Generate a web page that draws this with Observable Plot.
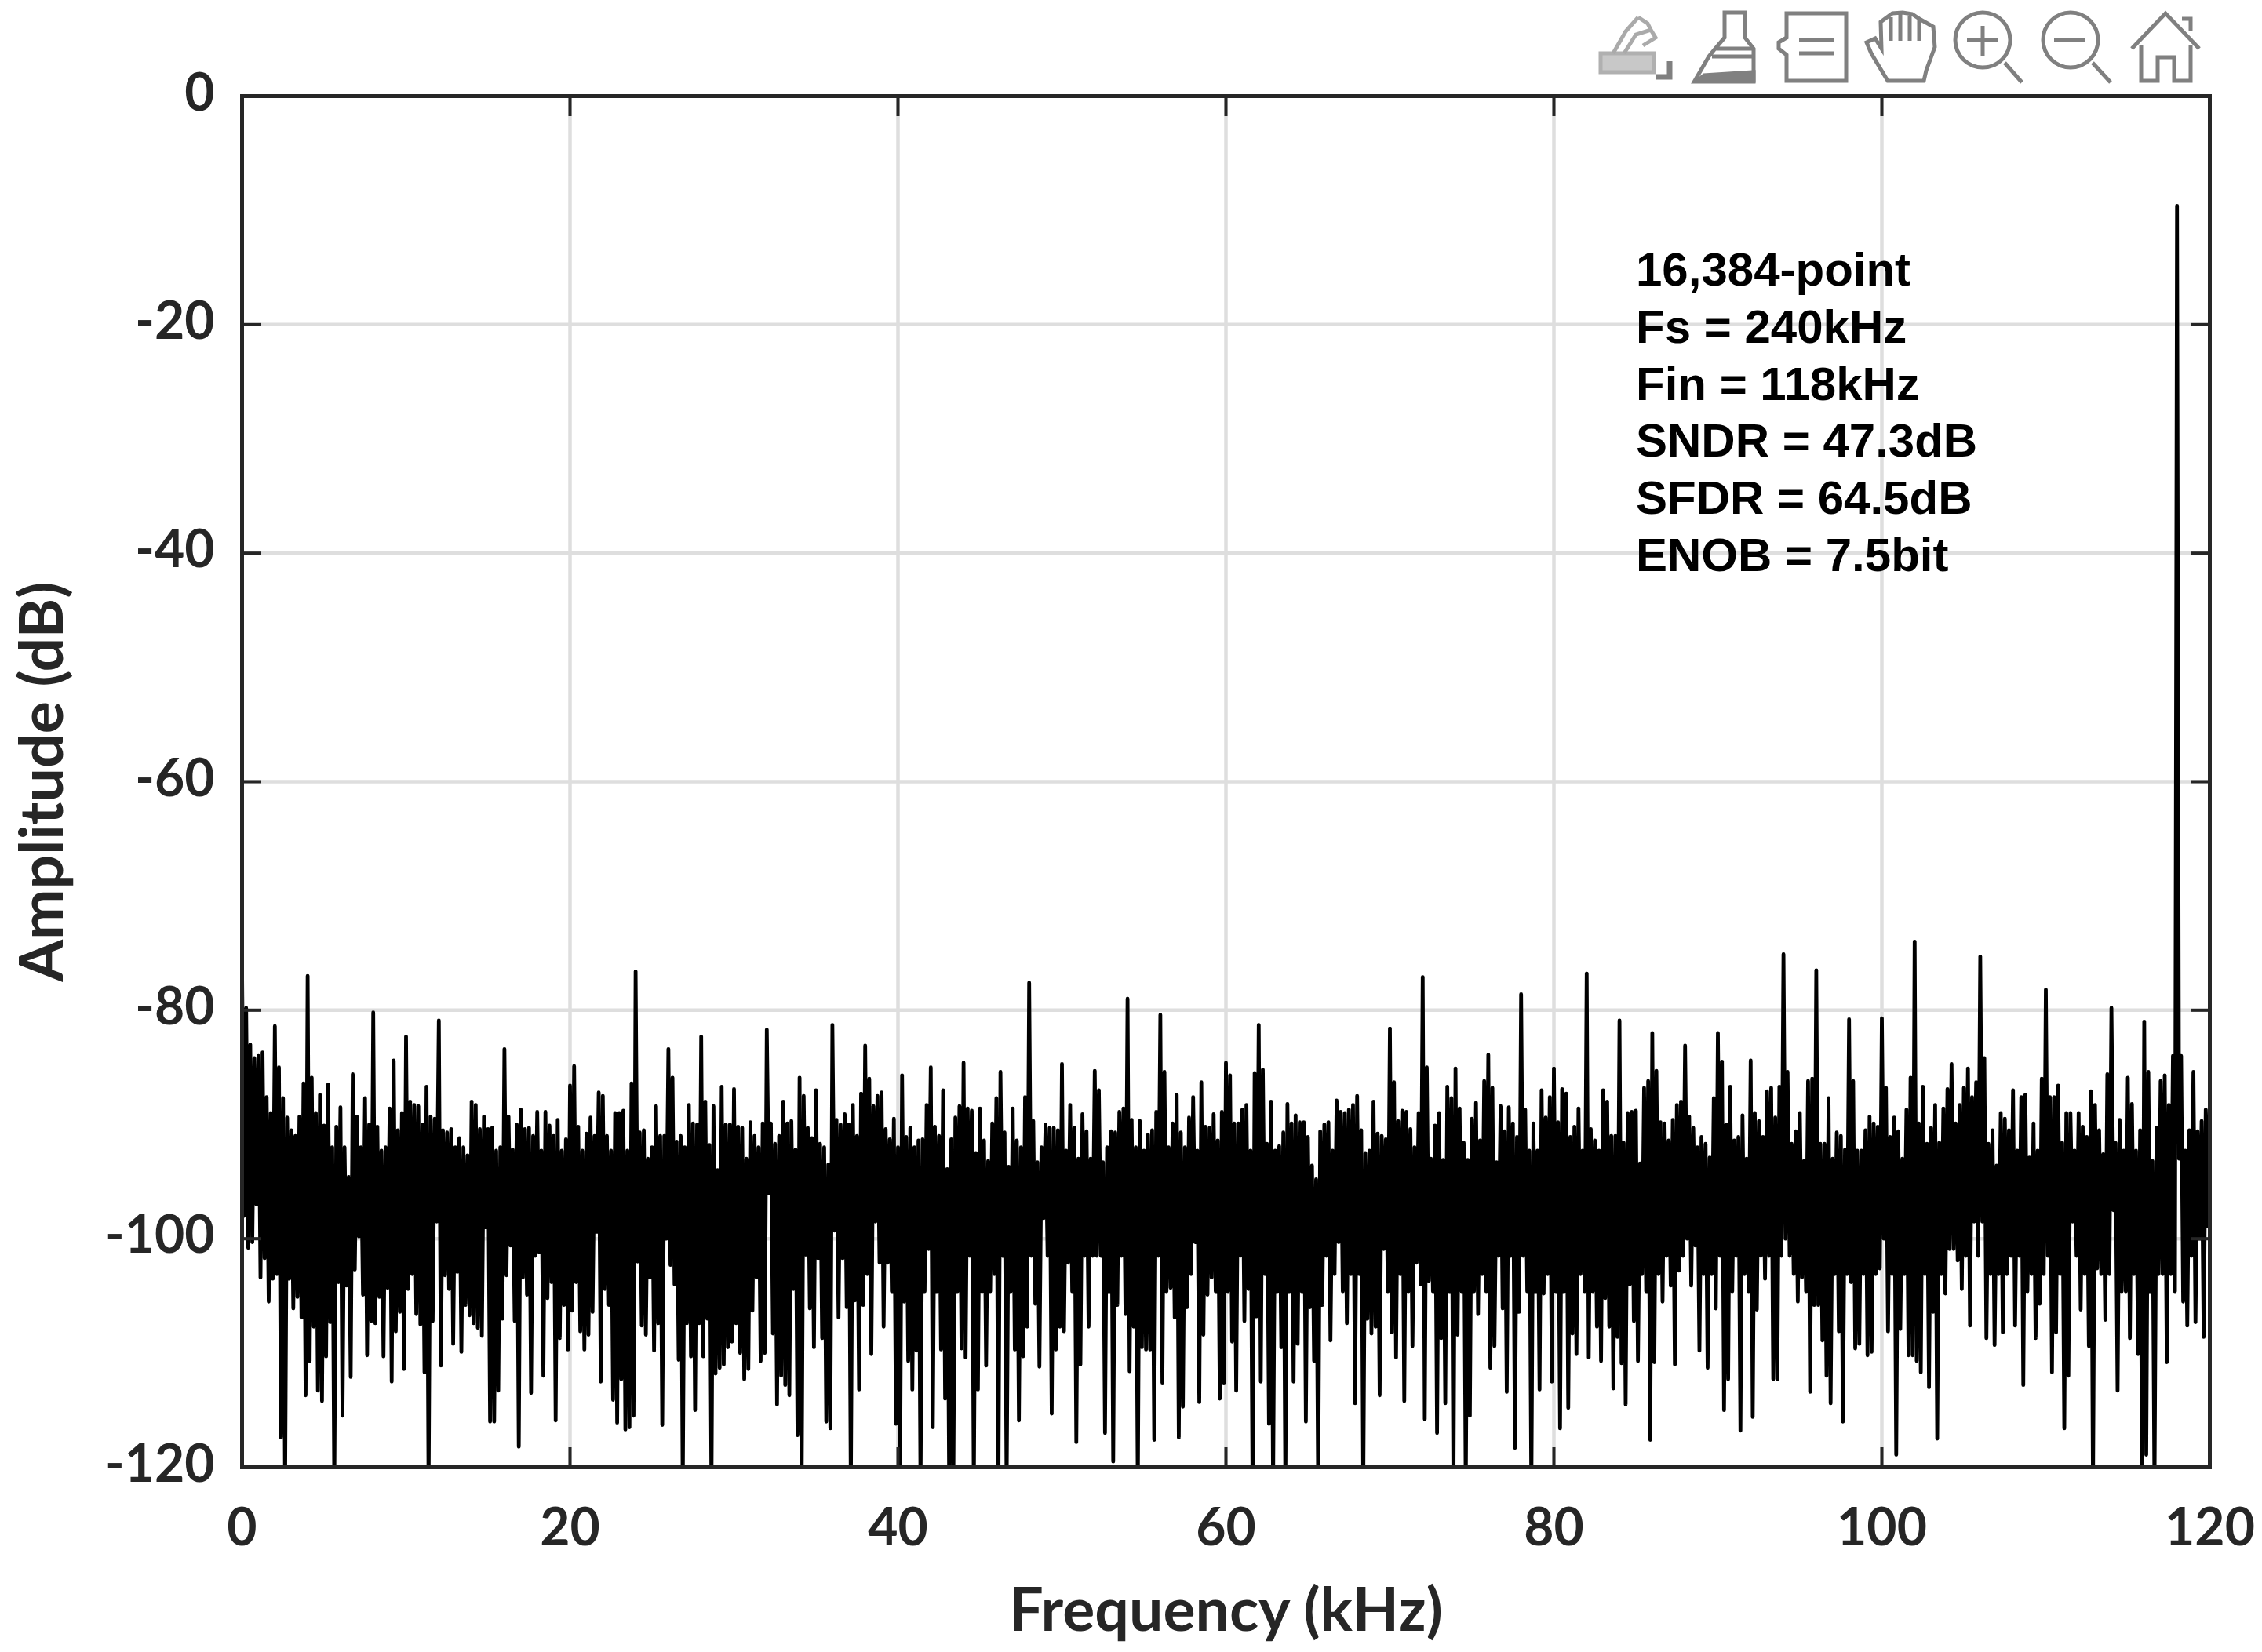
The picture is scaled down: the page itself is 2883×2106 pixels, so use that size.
<!DOCTYPE html>
<html>
<head>
<meta charset="utf-8">
<script src="https://cdn.jsdelivr.net/npm/d3@7"></script>
<script src="https://cdn.jsdelivr.net/npm/@observablehq/plot@0.6"></script>
<style>
html,body{margin:0;padding:0;background:#fff;}
#wrap{position:relative;width:2883px;height:2106px;overflow:hidden;}
#tools{position:absolute;left:0;top:0;}
</style>
</head>
<body>
<div id="wrap">
<div id="chart"></div>
<svg id="tools" width="2883" height="120" fill="none" stroke="#808080" stroke-width="5">
  <g stroke="#aaa" stroke-width="5">
    <rect x="2040" y="68" width="68" height="24" fill="#c8c8c8" stroke="#b0b0b0"/>
    <path d="M2056 68 L2072 40 L2088 22 M2070 68 L2085 44 L2104 38 L2110 48 L2094 58 M2088 22 L2100 30 L2104 38"/>
  </g>
  <path d="M2110 98 H2128 V78" stroke="#808080" stroke-width="7"/>
  <path d="M2198 16 H2224 V48 L2235 62 V103 H2160 L2178 72 L2186 62 L2198 48 Z M2186 62 H2235 M2182 72 H2235"/>
  <path d="M2162 104 L2172 96 L2235 92 V104 Z" fill="#808080"/>
  <path d="M2277 17 H2353 V103 H2277 V70 L2267 62 V54 L2277 48 Z M2293 51 H2338 M2293 68 H2338"/>
  <path d="M2406 103 L2385 68 L2379 54 L2390 49 L2398 62 L2397 28 L2405 22 L2412 17 L2425 16 L2437 18 L2448 25 L2464 34 L2466 60 L2455 90 L2452 103 Z M2410 22 V52 M2422 18 V52 M2434 20 V52 M2446 26 V52"/>
  <circle cx="2527" cy="51" r="35"/>
  <path d="M2555 80 L2577 105 M2527 33 V71 M2507 51 H2547"/>
  <circle cx="2639" cy="51" r="35"/>
  <path d="M2667 80 L2690 105 M2618 51 H2658"/>
  <path d="M2717 62 L2760 17 L2803 62 M2729 58 V103 H2750 V73 H2771 V103 H2792 V58 M2781 24 H2792 V40"/>
</svg>
</div>
<script>
const binStep = 0.25;
const toneFreq = 118;

// Upper ends of the trace, one value per bin, 20 bins (5 kHz) on each row
const tops = [
-76.5,-79.8,-83,-84.2,-84,-83.7,-87.6,-89,-81.4,-85,-87.7,-89.4,-90.5,-91,-89.3,-86.4,-77,-85.9,-89,-87.4,
-90.1,-86.5,-92,-90.2,-88.5,-92,-94.6,-85.6,-89.3,-92,-87.7,-90,-80.2,-90.2,-92.3,-92,-88.6,-84.4,-90.5,-89,
-82.3,-88,-88.3,-88.4,-90,-86.7,-89.3,-89.5,-80.9,-90.5,-90.7,-90.4,-92,-91.2,-92,-92.7,-88,-88.3,-90.4,-89.3,
-90.4,-90.3,-92.3,-92,-83.4,-89.3,-92.2,-90,-88.7,-90.4,-90.3,-91,-88.9,-92.3,-88.9,-90.1,-91,-89.6,-92.3,-91.3,
-86.6,-84.9,-90.2,-92.3,-90.8,-89.4,-91,-87.2,-87.5,-91,-92.3,-89,-89,-88.8,-92.3,-86.4,-76.6,-90.7,-90.5,-93,
-92,-88.4,-91,-91,-83.4,-85.9,-91.5,-91,-92,-88.3,-89.9,-90,-82.3,-88,-91.8,-88.4,-94,-86.7,-90,-90,
-86.9,-90.2,-90.3,-93,-89.8,-91,-92,-89.9,-81.7,-89.9,-91.7,-91,-88,-89.9,-89.7,-92.2,-85.9,-87.5,-90.3,-91.2,
-87,-91.7,-92,-93.5,-81.3,-89.6,-90,-89.1,-90,-88.3,-91,-87.3,-83.1,-86,-88.4,-87.5,-87.2,-90.4,-91.3,-89.5,
-92,-85.7,-91.1,-90.3,-92,-91.4,-91.3,-88.3,-85,-90.2,-91,-87,-93.9,-91.3,-89.4,-88.4,-84.6,-88.6,-88.8,-92.5,
-88.6,-91.4,-93.2,-89.9,-87.7,-85.4,-90.7,-93.7,-88.6,-91.4,-92,-87.6,-77.6,-89.7,-93.3,-92,-90,-90.3,-90.3,-90.5,
-84.7,-92.3,-88.3,-90.3,-93,-89.1,-90.6,-93,-85.3,-87,-93.3,-92,-90.6,-90.7,-88.9,-88.6,-79,-89.6,-92,-89.7,
-92.3,-90.9,-90.5,-88.9,-80.4,-85.4,-92,-89.9,-87.4,-90.7,-92,-89.4,-87.6,-92.3,-86.3,-90.2,-90.3,-89.1,-91.4,-88.9,
-84.6,-85.7,-89.9,-89.9,-88.7,-88.3,-92.3,-85.5,-81.3,-85.2,-91.7,-88,-92.3,-91.9,-90.7,-88.2,-89.9,-89.2,-89.8,-89.8,
-91.1,-93.6,-94.8,-90.6,-90,-89.8,-92.3,-87.9,-88.9,-89,-88.7,-88.3,-87.5,-90.5,-92.5,-92.3,-88,-90.8,-91,-91.3,
-81.6,-86.3,-89.7,-88.8,-88.9,-90.4,-92,-89,-77.1,-85,-93,-90.1,-89,-93.1,-86.7,-87.7,-85.1,-88.6,-91.6,-93.1,
-89.5,-88.1,-91.4,-86.2,-83.9,-86.8,-93.3,-88.4,-90.6,-88.5,-89.9,-91.1,-78.6,-88.7,-92.3,-89.9,-92.3,-87,-89.4,-87.6,
-85.1,-89.8,-86.9,-87.3,-91.1,-90.2,-88.6,-92.3,-76.8,-90.4,-91.4,-92.3,-87,-88,-91,-91,-80.9,-91.6,-89,-88.9,
-88.8,-93.4,-86.8,-86.2,-82,-85.3,-89.8,-89.9,-91.4,-89.6,-88.3,-88,-83.1,-89.3,-90.3,-92,-91.1,-91.7,-92.9,-87.7,
-82,-84.5,-90,-86.7,-91.4,-91.1,-89.2,-93,-84.4,-89,-89.7,-91.1,-87.1,-86.8,-89.4,-86.7,-75.1,-85.4,-91.7,-90.6,
-89,-93.2,-86.2,-86,-76.5,-91.7,-91.7,-87.7,-93,-90.7,-91,-92.2,-80.8,-86.2,-92.3,-92.3,-90.5,-89.3,-89.9,-90.2,
-80.7,-86.8,-91.1,-89.4,-90.6,-93,-88.7,-85.9,-74,-89.9,-86.7,-91.7,-90.3,-88.3,-91.6,-88.6,-86.9,-84.7,-89.9,-88.3,
-86.8,-85.1,-87.6,-86.3,-75.3,-84.2,-91.7,-90.5,-93.6,-89,-89.5,-90.5,-87,-92.3,-87.6,-87.4,-92.9,-89.9,-92.3,-86,
-78.2,-87.6,-87.6,-86.6,-91.6,-89,-89,-92.3,-89,-90.2,-91.1,-87.1,-88.3,-90.5,-92.6,-85.6,-79.8,-91.6,-89.6,-92.3,
-85.9,-88.2,-92.3,-90.5,-81,-85.4,-93.2,-90.3,-86.2,-85.7,-88.3,-84,-9.6,-84,-92.3,-90.5,-85.4,-90.6,-89.7,-88.7
];

// Lower ends of the trace, half a bin later; values under the axis floor are clipped by it
const bottoms = [
-98,-100.8,-100.3,-97,-103.4,-101.7,-105.5,-103.5,-103.1,-117.4,-122,-103.5,-106.1,-105.1,-106.9,-113.7,-110.7,-107.7,-113.3,-114.2,
-110.3,-107.3,-122,-103.8,-115.5,-104.1,-112.1,-102.7,-99.8,-104.9,-110.2,-107.2,-107.4,-105.1,-110.3,-104.3,-112.5,-108.1,-106.4,-111.4,
-104.4,-103.1,-106.6,-107.5,-111.7,-122,-107.2,-98.5,-111.1,-103.2,-104.4,-109.2,-102.9,-109.9,-105.8,-106.7,-107.4,-107.8,-108.5,-99,
-116,-116,-113.3,-107,-103.2,-100.6,-107.2,-118.2,-103.4,-104.9,-113.5,-101.5,-101.2,-112,-105.2,-103.8,-115.9,-108.7,-105.8,-109.7,
-106.3,-103.8,-108.1,-109.7,-108.4,-106.4,-99.4,-112.5,-104.4,-105.8,-114.1,-116.1,-112.3,-116.7,-116.5,-115.5,-102,-107.6,-108.4,-103.4,
-109.8,-107.4,-116.3,-100,-102.3,-104,-110.6,-122,-107.4,-110.3,-115,-107.4,-110.3,-107,-122,-111.8,-111.3,-111,-109.5,-109,
-107.4,-110,-112.3,-111.4,-106.3,-103.4,-110.7,-110,-96,-108.3,-114.5,-112,-112.8,-113.7,-104.4,-117.2,-122,-101.4,-106.1,-109.5,
-101.7,-108.7,-116,-116.6,-99.3,-106.9,-101.7,-106,-122,-105.4,-113.2,-105.8,-103.1,-110.1,-98.5,-102.1,-107.7,-102.1,-104.6,-116.2,
-122,-105.5,-110.7,-113.2,-109.8,-122,-104.6,-100.9,-116.5,-104.6,-109.7,-114,-122,-122,-104.6,-109.6,-110.4,-101.5,-122,-113.2,
-104.6,-111.1,-104.6,-103.1,-122,-101.5,-122,-104.6,-109.7,-115.9,-110.3,-107.7,-101.5,-105.7,-111.2,-98.2,-101.5,-115.3,-109.7,-107.7,
-108.1,-102.1,-104.6,-117.8,-111,-101.5,-107.7,-101.5,-101.5,-101.5,-117,-104.6,-119.5,-105.8,-101.5,-106.6,-111.6,-107.7,-122,-109.5,
-109.7,-109.7,-117.6,-101.5,-112.6,-104.6,-104.3,-106.9,-117.4,-114.7,-106,-103.1,-100.3,-114.3,-108.4,-104.9,-103.4,-104.6,-114,-112.6,
-104.6,-109,-113.3,-101.5,-107.2,-104.4,-122,-106.8,-112.5,-103.1,-116.2,-122,-104.6,-109.5,-122,-104.6,-112.5,-109.2,-104.6,-116,
-106,-110.7,-122,-105.8,-101.5,-108.9,-103.1,-100.3,-104.6,-107.4,-103.1,-114.4,-103.1,-122,-107,-108.3,-107.7,-113.7,-100.9,-104.6,
-108.2,-110.4,-103.1,-114.2,-104.6,-109.4,-102.1,-104,-115.8,-103.7,-104.6,-117,-108.7,-114.4,-104.6,-122,-108.4,-104.6,-122,-115.5,
-104.6,-106.6,-103.1,-104.6,-111.3,-109.4,-101.5,-106.1,-113.4,-101.5,-118.3,-106.4,-101.5,-104.6,-122,-104.6,-113.2,-104.8,-103.1,-112.5,
-104.6,-116.6,-104.6,-114.8,-108.3,-110.1,-103.1,-104.6,-110.4,-104.6,-107.7,-110.7,-105.2,-107.7,-113.1,-108.6,-110.9,-114.5,-104,-107.2,
-110.7,-103.1,-104.6,-117.6,-110.8,-103.1,-105.5,-101.5,-104.1,-111,-102.8,-101.5,-100,-104.1,-100.6,-109.8,-103.1,-111.3,-103.1,-106.1,
-101.5,-115,-112.3,-104.6,-101.5,-116.8,-103.1,-104.6,-115.6,-106.2,-101.5,-103.5,-101.5,-112.3,-112.3,-101.5,-100,-101.5,-103.1,-105.5,
-103.4,-104.6,-113.4,-105.8,-105.8,-108.9,-112,-114.4,-103.1,-108.1,-116,-103.1,-103.8,-109.6,-109.2,-103.1,-110.2,-109.9,-103.1,-102.6,
-100,-108.1,-103.1,-118.9,-107.9,-103.1,-110.2,-110.2,-110.7,-111.7,-103.1,-113,-106.4,-117.5,-103.1,-104.8,-100.9,-100.9,-101.9,-104.4,
-101.5,-107.6,-98.5,-101.5,-98.5,-108.7,-103.1,-109.3,-103.1,-108.2,-103.1,-101.5,-107.6,-101.5,-112.8,-104.6,-103.1,-108.7,-105.7,-103.1,
-101.5,-111.7,-108.2,-103.1,-116.6,-112,-98.5,-101.5,-106.2,-103.1,-109.4,-122,-102.6,-103.1,-107.1,-103.1,-97.5,-113.3,-104.6,-104.6,
-108.7,-103.1,-110.1,-122,-118.9,-104.6,-122,-103.1,-103.1,-110.8,-103.1,-104.6,-93,-105.5,-107.6,-101.5,-107.3,-100,-108.6,-98.9
];

const xTicks = [0,20,40,60,80,100,120];
const yTicks = [0,-20,-40,-60,-80,-100,-120];
const xGrid = [20,40,60,80,100];
const yGrid = [-20,-40,-60,-80,-100];
const noteLines = ["16,384-point","Fs = 240kHz","Fin = 118kHz","SNDR = 47.3dB","SFDR = 64.5dB","ENOB = 7.5bit"];
const noteLevels = [-15.25,-20.25,-25.25,-30.25,-35.25,-40.25];
const noteFreq = 85;
const xTitle = "Frequency (kHz)";
const yTitle = "Amplitude (dB)";

const inkColor = "#262626";
const gridColor = "#dedede";
const labelFont = "Lato, Carlito, sans-serif";

const spectrum = [];
tops.forEach((t, i) => {
  spectrum.push({f: i * binStep, a: t});
  spectrum.push({f: i * binStep + binStep / 2, a: bottoms[i]});
});
spectrum.push({f: 120, a: -88});

const chart = Plot.plot({
  width: 2883,
  height: 2106,
  marginLeft: 308,
  marginRight: 67,
  marginTop: 122,
  marginBottom: 236,
  style: {background: "#fff", fontFamily: labelFont},
  x: {domain: [0, 120], axis: null},
  y: {domain: [-120, 0], axis: null},
  marks: [
    Plot.ruleX(xGrid, {stroke: gridColor, strokeWidth: 4.5}),
    Plot.ruleY(yGrid, {stroke: gridColor, strokeWidth: 4.5}),
    Plot.text(noteLines, {
      x: noteFreq, y: (d, i) => noteLevels[i], text: d => d,
      textAnchor: "start", fontFamily: "Liberation Sans", fontWeight: "bold", fontSize: 60, fill: "#000"
    }),
    Plot.line(spectrum, {
      x: "f", y: "a", stroke: "#000", strokeWidth: 4.8, clip: true,
      strokeLinejoin: "round", strokeLinecap: "round"
    }),
    Plot.axisX({anchor: "bottom", label: null, ticks: xTicks, tickSize: -25, tickFormat: () => "", stroke: inkColor, strokeWidth: 4}),
    Plot.axisX({anchor: "top", label: null, ticks: xTicks, tickSize: -25, tickFormat: () => "", stroke: inkColor, strokeWidth: 4}),
    Plot.axisY({anchor: "left", label: null, ticks: yTicks, tickSize: -25, tickFormat: () => "", stroke: inkColor, strokeWidth: 4}),
    Plot.axisY({anchor: "right", label: null, ticks: yTicks, tickSize: -25, tickFormat: () => "", stroke: inkColor, strokeWidth: 4}),
    Plot.frame({stroke: inkColor, strokeWidth: 5}),
    Plot.text(xTicks, {
      x: d => d, frameAnchor: "bottom", dy: 99, text: d => String(d),
      fontFamily: labelFont, fontWeight: "bold", fontSize: 66, fill: inkColor
    }),
    Plot.text(yTicks, {
      y: d => d, frameAnchor: "left", dx: -35, dy: -3, textAnchor: "end", text: d => String(d),
      fontFamily: labelFont, fontWeight: "bold", fontSize: 66, fill: inkColor
    }),
    Plot.text([xTitle], {
      frameAnchor: "bottom", dy: 208, text: d => d,
      fontFamily: labelFont, fontWeight: "bold", fontSize: 77, fill: inkColor
    }),
    Plot.text([yTitle], {
      frameAnchor: "left", dx: -253, textAnchor: "middle", rotate: -90, text: d => d,
      fontFamily: labelFont, fontWeight: "bold", fontSize: 77, fill: inkColor
    })
  ]
});
document.getElementById("chart").appendChild(chart);
</script>
</body>
</html>
